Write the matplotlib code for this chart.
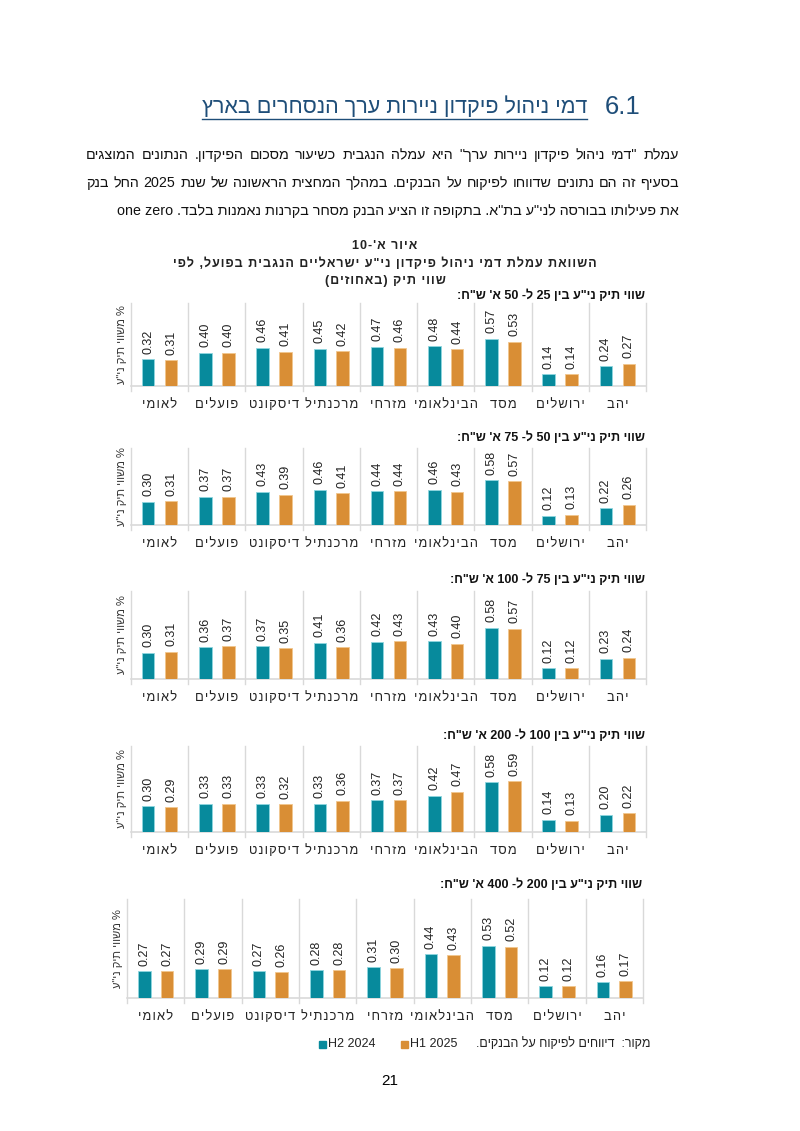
import re
import matplotlib
matplotlib.use("Agg")
import matplotlib.pyplot as plt
from matplotlib.lines import Line2D
from matplotlib.patches import Rectangle

W, H = 800, 1131
FONT = ["Liberation Sans", "DejaVu Sans"]
TEAL = "#078A9C"
ORANGE = "#D98E35"
GRID = "#D9D9D9"

banks = ["לאומי", "פועלים", "דיסקונט", "מרכנתיל", "מזרחי", "הבינלאומי", "מסד", "ירושלים", "יהב"]
series_names = ["H2 2024", "H1 2025"]

range_titles = [
    'שווי תיק ני"ע בין 25 ל- 50 א\' ש"ח:',
    'שווי תיק ני"ע בין 50 ל- 75 א\' ש"ח:',
    'שווי תיק ני"ע בין 75 ל- 100 א\' ש"ח:',
    'שווי תיק ני"ע בין 100 ל- 200 א\' ש"ח:',
    'שווי תיק ני"ע בין 200 ל- 400 א\' ש"ח:',
]
h2_2024 = [
    [0.32, 0.40, 0.46, 0.45, 0.47, 0.48, 0.57, 0.14, 0.24],
    [0.30, 0.37, 0.43, 0.46, 0.44, 0.46, 0.58, 0.12, 0.22],
    [0.30, 0.36, 0.37, 0.41, 0.42, 0.43, 0.58, 0.12, 0.23],
    [0.30, 0.33, 0.33, 0.33, 0.37, 0.42, 0.58, 0.14, 0.20],
    [0.27, 0.29, 0.27, 0.28, 0.31, 0.44, 0.53, 0.12, 0.16],
]
h1_2025 = [
    [0.31, 0.40, 0.41, 0.42, 0.46, 0.44, 0.53, 0.14, 0.27],
    [0.31, 0.37, 0.39, 0.41, 0.44, 0.43, 0.57, 0.13, 0.26],
    [0.31, 0.37, 0.35, 0.36, 0.43, 0.40, 0.57, 0.12, 0.24],
    [0.29, 0.33, 0.32, 0.36, 0.37, 0.47, 0.59, 0.13, 0.22],
    [0.27, 0.29, 0.26, 0.28, 0.30, 0.43, 0.52, 0.12, 0.17],
]

heading_num = "6.1"
heading = "דמי ניהול פיקדון ניירות ערך הנסחרים בארץ"
body = [
    'עמלת "דמי ניהול פיקדון ניירות ערך" היא עמלה הנגבית כשיעור מסכום הפיקדון. הנתונים המוצגים',
    'בסעיף זה הם נתונים שדווחו לפיקוח על הבנקים. במהלך המחצית הראשונה של שנת 2025 החל בנק',
]
body_last_latin = "one zero"
body_last = 'את פעילותו בבורסה לני"ע בת"א. בתקופה זו הציע הבנק מסחר בקרנות נאמנות בלבד.'
fig_title = [
    "איור א'-10",
    'השוואת עמלת דמי ניהול פיקדון ני"ע ישראליים הנגבית בפועל, לפי',
    "שווי תיק (באחוזים)",
]
ylabel = '% משווי תיק ני"ע'
source = "מקור:  דיווחים לפיקוח על הבנקים."

# panel boxes in page pixels: subtitle y, axes top, axes bottom, left, right
panels = [
    (296, 303, 386, 131, 646),
    (438, 448, 525, 131, 646),
    (580, 591, 679, 131, 646),
    (736, 746, 832, 131, 646),
    (885, 899, 998, 127, 643),
]

MIRROR = str.maketrans("()[]", ")(][")


def vis(s):
    """Crude bidi: reverse RTL runs, keep latin/digit runs in order."""
    parts = re.findall(r"[A-Za-z0-9]+(?:[ .,][A-Za-z0-9]+)*|[^A-Za-z0-9]+", s)
    out = []
    for p in reversed(parts):
        if re.match(r"[A-Za-z0-9]", p):
            out.append(p)
        else:
            out.append(p[::-1].translate(MIRROR))
    return "".join(out)


def spaced(s, sep="\u200a"):
    return sep.join(s)


def fx(x):
    return x / W


def fy(y):
    return 1 - y / H


fig = plt.figure(figsize=(W / 100, H / 100), dpi=100)
renderer = fig.canvas.get_renderer()

# heading
fig.text(fx(641), fy(107), heading_num, family=FONT, size=18.5, color="#1F4E79",
         ha="right", va="center")
t_head = fig.text(fx(587), fy(107), vis(heading), family=FONT, size=15.5, color="#1F4E79",
                  ha="right", va="center")
bb = t_head.get_window_extent(renderer)
fig.add_artist(Line2D([bb.x0 / W, bb.x1 / W], [(bb.y0 - 1) / H] * 2, color="#1F4E79", lw=1))


def justify(line, y, left, right, size):
    words = vis(line).split(" ")
    texts = [fig.text(0, fy(y), w, family=FONT, size=size, va="center", color="#111111")
             for w in words]
    widths = [t.get_window_extent(renderer).width for t in texts]
    gap = (right - left - sum(widths)) / (len(words) - 1)
    x = left
    for t, w in zip(texts, widths):
        t.set_x(fx(x))
        x += w + gap


justify(body[0], 155, 86, 679, 10.3)
justify(body[1], 183, 86, 679, 10.3)
fig.text(fx(679), fy(211), body_last_latin + " " + vis(body_last), family=FONT, size=10.3,
         ha="right", va="center", color="#111111")

# figure title
for i, line in enumerate(fig_title):
    fig.text(fx(385), fy(246 + 17.5 * i), spaced(vis(line)), family=FONT, size=9,
             weight="bold", ha="center", va="center", color="#222222")

for k, (sub_y, top, bottom, left, right) in enumerate(panels):
    ax = fig.add_axes([fx(left), fy(bottom), (right - left) / W, (bottom - top) / H])
    ax.set_xlim(-0.5, len(banks) - 0.5)
    ax.set_ylim(0, 1.0)
    ax.axis("off")
    xs = range(len(banks))
    ax.bar([x - 0.2 for x in xs], h2_2024[k], width=0.22, color=TEAL,
           edgecolor="#8FD6DF", linewidth=0.6, zorder=3)
    ax.bar([x + 0.2 for x in xs], h1_2025[k], width=0.22, color=ORANGE,
           edgecolor="#F2C68E", linewidth=0.6, zorder=3)
    for x, v in zip(xs, h2_2024[k]):
        ax.annotate(f"{v:.2f}", (x - 0.2, v), xytext=(0, 4), textcoords="offset points",
                    rotation=90, ha="center", va="bottom", size=9, family=FONT, color="#222222")
    for x, v in zip(xs, h1_2025[k]):
        ax.annotate(f"{v:.2f}", (x + 0.2, v), xytext=(0, 4), textcoords="offset points",
                    rotation=90, ha="center", va="bottom", size=9, family=FONT, color="#222222")
    ext = 5 / (bottom - top)
    trans = ax.get_xaxis_transform()
    for b in range(len(banks) + 1):
        ax.plot([b - 0.5, b - 0.5], [-ext, 1.0], color=GRID, lw=1, transform=trans,
                clip_on=False, zorder=1)
    ax.plot([-0.5, len(banks) - 0.5], [0, 0], color=GRID, lw=1.2, transform=trans,
            clip_on=False, zorder=2)
    for x, name in zip(xs, banks):
        ax.annotate(spaced(vis(name)), (x, 0), xycoords=("data", "axes fraction"),
                    xytext=(0, -19 * 0.72), textcoords="offset points", ha="center",
                    va="center", size=9.3, family=FONT, color="#222222")
    fig.text(fx(right - 1), fy(sub_y), vis(range_titles[k]), family=FONT, size=9,
             weight="bold", ha="right", va="center", color="#111111")
    fig.text(fx(left - 9), fy((top + bottom) / 2), vis(ylabel), family=FONT, size=8,
             rotation=90, ha="center", va="center", color="#333333")

# legend and source
for sx, col, name in [(319, TEAL, series_names[0]), (401, ORANGE, series_names[1])]:
    fig.add_artist(Rectangle((fx(sx), fy(1047.5)), 7 / W, 7 / H, color=col,
                             transform=fig.transFigure))
    fig.text(fx(sx + 9), fy(1044), name, family=FONT, size=9, ha="left", va="center",
             color="#222222")
fig.text(fx(650), fy(1044), vis(source), family=FONT, size=9, ha="right", va="center",
         color="#222222")

fig.text(fx(390), fy(1081), "21", family=FONT, size=11, ha="center", va="center")

fig.savefig("out.png", dpi=100, facecolor="white")
